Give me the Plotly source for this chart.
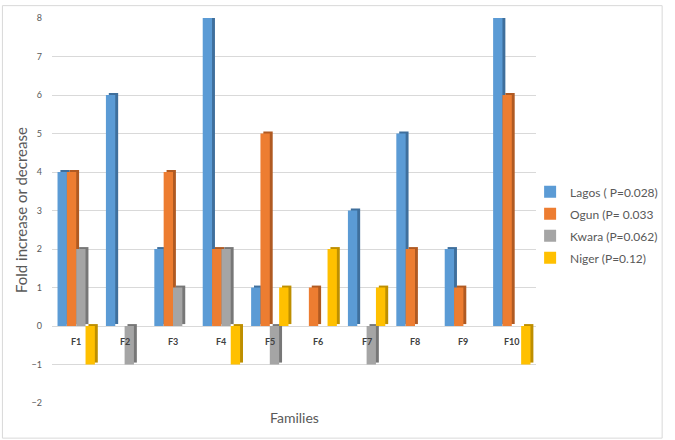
import plotly.graph_objects as go

families = ["F1", "F2", "F3", "F4", "F5", "F6", "F7", "F8", "F9", "F10"]
lagos = [4, 6, 2, 8, 1, 0, 3, 5, 2, 8]
ogun = [4, 0, 4, 2, 5, 1, 0, 2, 1, 6]
kwara = [2, -1, 1, 2, -1, 0, -1, 0, 0, 0]
niger = [-1, 0, 0, -1, 1, 2, 1, 0, 0, -1]
series_names = ["Lagos ( P=0.028)", "Ogun (P= 0.033", "Kwara (P=0.062)", "Niger (P=0.12)"]
series_values = [lagos, ogun, kwara, niger]
y_ticks = [-2, -1, 0, 1, 2, 3, 4, 5, 6, 7, 8]

front_colors = ["#5B9BD5", "#ED7D31", "#A5A5A5", "#FFC000"]
side_colors = ["#3F6F9C", "#B05A22", "#777777", "#BE8F00"]

FONT = "Lato"
TXT = "#595959"

L, R, T, B = 52, 130, 14, 37
W, H = 675, 440
pw, ph = W - L - R, H - T - B

xs = list(range(len(families)))
slot = 0.193
start = -2 * slot
side_dx = 0.06
side_dy = 0.05

fig = go.Figure()
# side (shadow) faces first
for k, (name, vals) in enumerate(zip(series_names, series_values)):
    fig.add_trace(go.Bar(
        x=xs, y=vals, base=[side_dy] * len(vals),
        offset=start + k * slot + side_dx, width=slot,
        marker=dict(color=side_colors[k], line=dict(width=0)),
        showlegend=False, hoverinfo="skip",
    ))
# front faces
for k, (name, vals) in enumerate(zip(series_names, series_values)):
    fig.add_trace(go.Bar(
        x=xs, y=vals, name=name,
        offset=start + k * slot, width=slot,
        marker=dict(color=front_colors[k], line=dict(width=0)),
        legendgroup=f"g{k}",
    ))

# category labels just below the zero line
for i, f in enumerate(families):
    fig.add_annotation(x=i, y=0, xref="x", yref="y", text=f"<b>{f}</b>",
                       showarrow=False, yshift=-15,
                       font=dict(family=FONT, size=9, color="#404040"))

fig.add_annotation(x=0.5, y=0, xref="paper", yref="paper", text="Families",
                   showarrow=False, yshift=-14, yanchor="middle",
                   font=dict(family=FONT, size=14, color=TXT))
fig.add_annotation(x=(20 - L) / pw, y=0.5, xref="paper", yref="paper",
                   text="Fold increase or decrease", textangle=-90,
                   showarrow=False, xanchor="center", yanchor="middle",
                   font=dict(family=FONT, size=15, color=TXT))

# outer chart border
fig.add_shape(type="rect", xref="paper", yref="paper",
              x0=(1.5 - L) / pw, x1=(W - 1.5 - L) / pw,
              y0=-(H - 1.5 - (T + ph)) / ph, y1=(T + ph - 1.5) / ph,
              line=dict(color="#d9d9d9", width=1), fillcolor="rgba(0,0,0,0)")

fig.update_layout(
    width=W, height=H,
    margin=dict(l=L, r=R, t=T, b=B),
    paper_bgcolor="white", plot_bgcolor="white",
    barmode="overlay",
    font=dict(family=FONT, color=TXT),
    legend=dict(x=(539 - L) / pw, y=(T + ph - 175) / ph, xanchor="left", yanchor="top",
                font=dict(family=FONT, size=12, color=TXT),
                tracegroupgap=3, bgcolor="rgba(0,0,0,0)"),
    xaxis=dict(range=[-0.5, len(families) - 0.5], showticklabels=False,
               showgrid=False, zeroline=False, showline=False, ticks=""),
    yaxis=dict(range=[y_ticks[0], y_ticks[-1]], tickvals=y_ticks,
               showgrid=True, gridcolor="#d9d9d9", gridwidth=1,
               zeroline=False, showline=False, ticks="",
               ticklabelstandoff=9,
               tickfont=dict(family=FONT, size=9, color=TXT)),
)

fig.write_html("out.html", config={"displayModeBar": False},
               post_script="document.body.style.margin='0';")
